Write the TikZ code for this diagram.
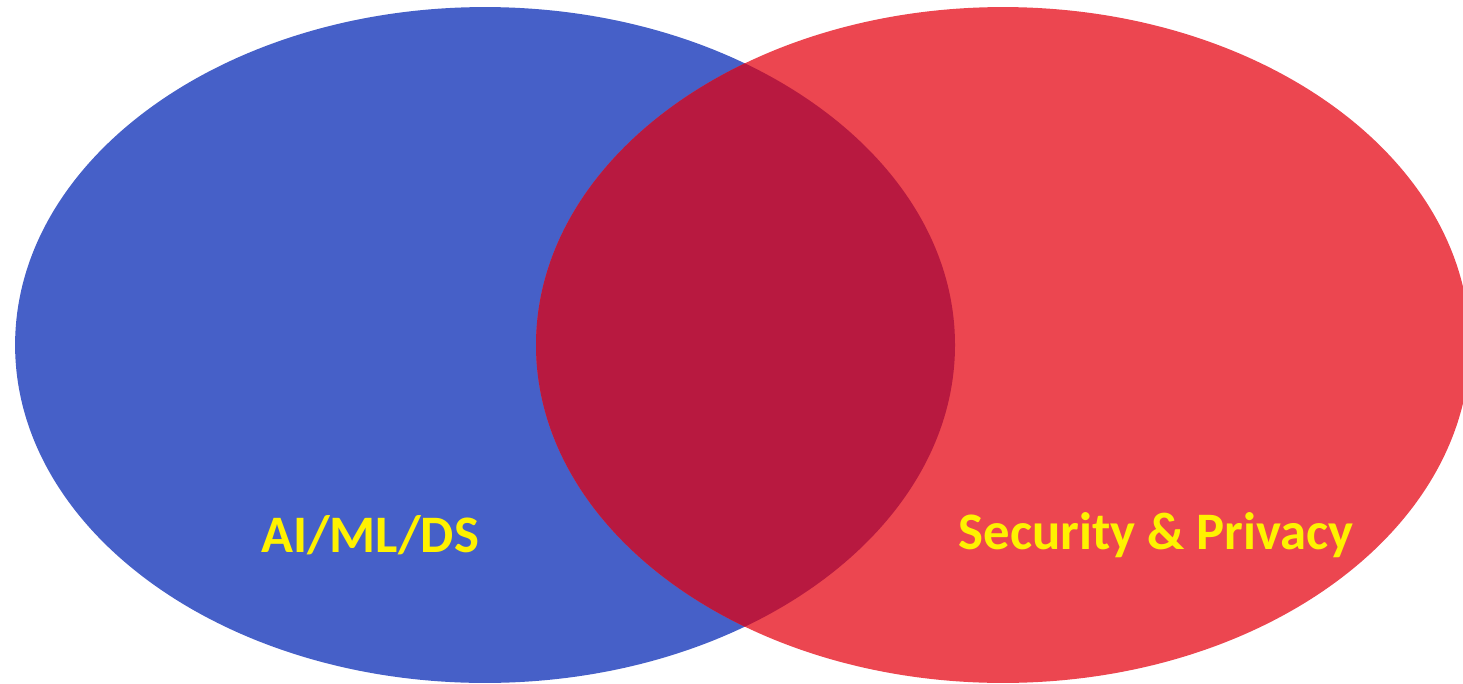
\documentclass[tikz,border=0pt]{standalone}
\usepackage{fontspec}
\setmainfont{Carlito}
\usetikzlibrary{shapes.geometric}
\definecolor{aiblue}{RGB}{70,96,200}
\definecolor{secred}{RGB}{236,70,80}
\definecolor{bothred}{RGB}{184,25,64}

\begin{document}
\begin{tikzpicture}
    [x=0.02cm, y=-0.02cm,
    set/.style={ellipse, inner sep=0pt, minimum height=13.52cm},
    label/.style={text=yellow, font=\fontsize{30}{36}\selectfont\bfseries}]
        \useasboundingbox (0,0) rectangle (1463,683);
        %% the two sets
        \node[set, fill=aiblue, minimum width=18.8cm] (AI) at (485,345) {};
        \node[set, fill=secred, minimum width=18.68cm] (SP) at (1003,345) {};
        %% overlap
        \begin{scope}
            \clip (485,345) ellipse [x radius=470, y radius=338];
            \fill[bothred] (1003,345) ellipse [x radius=467, y radius=338];
        \end{scope}
        %% labels
        \node[label] (AIl) at (370,535) {AI/ML/DS};
        \node[label] (SPl) at (1156,535) {Security \& Privacy};
    \end{tikzpicture}
\end{document}
